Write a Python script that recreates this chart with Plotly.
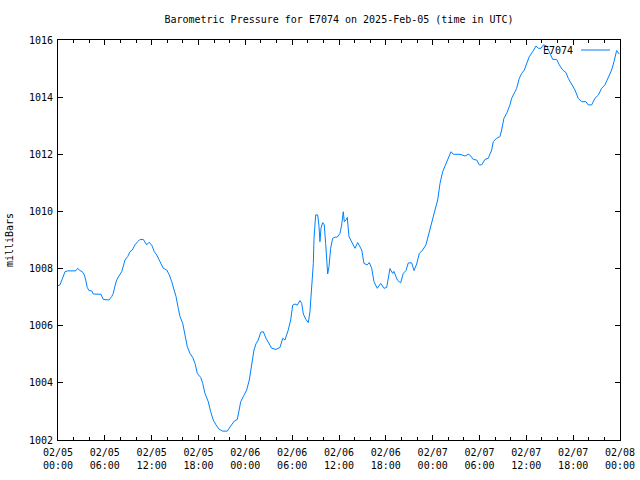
import pandas as pd
import plotly.graph_objects as go

title_text = "Barometric Pressure for E7074 on 2025-Feb-05 (time in UTC)"
series_name = "E7074"
y_title = "milliBars"
start_time = "2025-02-05 00:00"

# hours since 2025-02-05 00:00 UTC
hours = [0.00, 0.26, 0.55, 0.90, 1.24, 2.27, 2.52, 2.82, 3.11, 3.37, 3.55, 3.75, 3.97, 4.32, 4.52,
         5.51, 5.80, 6.53, 6.88, 7.08, 7.30, 7.52, 7.81, 8.16, 8.37, 8.58, 8.93, 9.22, 9.52, 9.86,
         10.21, 10.50, 10.93, 11.36, 11.66, 12.00, 12.34, 12.64, 13.07, 13.49, 13.93, 14.26, 14.57,
         14.86, 15.12, 15.41, 15.63, 15.98, 16.27, 16.56, 16.91, 17.26, 17.55, 17.85, 18.28, 18.54,
         18.83, 19.25, 19.56, 19.89, 20.24, 20.63, 21.10, 21.69, 22.12, 22.59, 22.97, 23.19, 23.41,
         23.74, 24.17, 24.51, 24.69, 24.89, 25.11, 25.37, 25.66, 25.97, 26.30, 26.65, 27.07, 27.38,
         27.93, 28.44, 28.79, 29.08, 29.50, 29.81, 30.07, 30.36, 30.66, 31.00, 31.22, 31.43, 31.77,
         32.07, 32.28, 32.50, 32.71, 32.80, 33.01, 33.27, 33.44, 33.56, 33.69, 33.91, 34.11, 34.29,
         34.42, 34.55, 34.72, 34.93, 35.19, 35.49, 35.78, 36.13, 36.34, 36.55, 36.68, 36.89, 37.06,
         37.28, 37.50, 37.75, 38.05, 38.39, 38.69, 38.91, 39.20, 39.46, 39.62, 39.88, 40.19, 40.48,
         40.90, 41.34, 41.76, 42.11, 42.44, 42.53, 42.88, 43.04, 43.47, 43.90, 44.23, 44.58, 44.88,
         45.31, 45.61, 45.95, 46.29, 46.72, 47.14, 47.44, 47.75, 48.00, 48.30, 48.64, 48.94, 49.28,
         49.71, 50.00, 50.35, 50.64, 51.50, 52.14, 52.56, 52.78, 53.20, 53.64, 53.97, 54.28, 54.70,
         55.12, 55.56, 55.76, 56.19, 56.62, 56.84, 57.13, 57.48, 57.90, 58.12, 58.55, 58.76, 59.10,
         59.40, 59.74, 60.04, 60.38, 60.81, 61.24, 61.53, 61.88, 62.18, 62.61, 63.03, 63.38, 63.89,
         64.22, 64.66, 65.08, 65.37, 65.81, 66.23, 66.65, 67.09, 67.64, 67.93, 68.37, 68.79, 69.22,
         69.65, 70.07, 70.50, 70.93, 71.23, 71.57, 71.90]

pressure = [1007.40, 1007.43, 1007.64, 1007.89, 1007.92, 1007.92, 1008.01, 1007.93, 1007.89, 1007.78,
            1007.60, 1007.34, 1007.23, 1007.22, 1007.11, 1007.10, 1006.92, 1006.90, 1007.02, 1007.13,
            1007.39, 1007.60, 1007.74, 1007.89, 1008.09, 1008.30, 1008.42, 1008.59, 1008.65, 1008.83,
            1008.94, 1009.02, 1009.02, 1008.83, 1008.92, 1008.83, 1008.59, 1008.48, 1008.24, 1008.01,
            1007.95, 1007.78, 1007.54, 1007.25, 1007.02, 1006.61, 1006.32, 1006.08, 1005.67, 1005.27,
            1005.03, 1004.89, 1004.68, 1004.33, 1004.19, 1003.98, 1003.63, 1003.34, 1002.99, 1002.70,
            1002.53, 1002.38, 1002.31, 1002.31, 1002.49, 1002.66, 1002.72, 1002.99, 1003.34, 1003.52,
            1003.75, 1004.10, 1004.45, 1004.80, 1005.15, 1005.37, 1005.50, 1005.77, 1005.79, 1005.56,
            1005.33, 1005.21, 1005.17, 1005.24, 1005.56, 1005.50, 1005.85, 1006.20, 1006.72, 1006.76,
            1006.72, 1006.88, 1006.78, 1006.41, 1006.22, 1006.11, 1006.49, 1007.42, 1008.18, 1009.06,
            1009.88, 1009.88, 1009.47, 1008.94, 1009.41, 1009.61, 1009.53, 1008.88, 1008.18, 1007.81,
            1008.07, 1008.71, 1009.06, 1009.10, 1009.10, 1009.23, 1009.53, 1009.99, 1009.64, 1009.70,
            1009.79, 1009.12, 1009.00, 1008.88, 1008.71, 1008.91, 1008.77, 1008.65, 1008.18, 1008.13,
            1008.13, 1008.21, 1008.01, 1007.54, 1007.31, 1007.48, 1007.31, 1007.34, 1007.89, 1008.00,
            1007.83, 1007.90, 1007.60, 1007.50, 1007.83, 1007.93, 1008.20, 1008.20, 1007.93, 1008.16,
            1008.53, 1008.65, 1008.83, 1009.17, 1009.41, 1009.76, 1010.05, 1010.40, 1010.98, 1011.39,
            1011.68, 1011.92, 1012.09, 1012.00, 1012.00, 1011.94, 1012.00, 1011.97, 1011.82, 1011.80,
            1011.63, 1011.63, 1011.82, 1011.86, 1012.15, 1012.44, 1012.56, 1012.62, 1012.85, 1013.26,
            1013.43, 1013.73, 1013.96, 1014.19, 1014.31, 1014.66, 1014.83, 1014.95, 1015.18, 1015.42,
            1015.59, 1015.79, 1015.71, 1015.71, 1015.83, 1015.79, 1015.53, 1015.32, 1015.32, 1015.13,
            1014.95, 1014.86, 1014.66, 1014.43, 1014.25, 1013.96, 1013.84, 1013.84, 1013.73, 1013.73,
            1013.96, 1014.07, 1014.31, 1014.43, 1014.72, 1014.95, 1015.24, 1015.63, 1015.51]

x_tick_values = ["2025-02-05 00:00", "2025-02-05 06:00", "2025-02-05 12:00", "2025-02-05 18:00",
                 "2025-02-06 00:00", "2025-02-06 06:00", "2025-02-06 12:00", "2025-02-06 18:00",
                 "2025-02-07 00:00", "2025-02-07 06:00", "2025-02-07 12:00", "2025-02-07 18:00",
                 "2025-02-08 00:00"]
x_tick_labels = ["02/05<br>00:00", "02/05<br>06:00", "02/05<br>12:00", "02/05<br>18:00",
                 "02/06<br>00:00", "02/06<br>06:00", "02/06<br>12:00", "02/06<br>18:00",
                 "02/07<br>00:00", "02/07<br>06:00", "02/07<br>12:00", "02/07<br>18:00",
                 "02/08<br>00:00"]
y_tick_values = [1002, 1004, 1006, 1008, 1010, 1012, 1014, 1016]

times = pd.Timestamp(start_time) + pd.to_timedelta(hours, unit="h")

line_color = "#0080ff"
font = "DejaVu Sans Mono, Liberation Mono, monospace"

fig = go.Figure()
fig.add_trace(go.Scatter(x=times, y=pressure, mode="lines", name=series_name,
                         line=dict(color=line_color, width=1), showlegend=False))

fig.update_layout(
    width=640, height=480,
    margin=dict(l=58, r=20, t=40, b=40, autoexpand=False),
    paper_bgcolor="white", plot_bgcolor="white",
    font=dict(family=font, size=10, color="black"),
    title=dict(text=title_text, x=(58 + 620) / 2 / 640, xanchor="center",
               y=1 - 19 / 480, yanchor="middle", font=dict(size=10)),
    xaxis=dict(
        range=[x_tick_values[0], x_tick_values[-1]], automargin=False,
        tickmode="array", tickvals=x_tick_values, ticktext=x_tick_labels,
        ticks="inside", ticklen=5, tickcolor="black", tickwidth=1,
        ticklabelstandoff=3,
        showline=True, linecolor="black", linewidth=1, mirror="allticks",
        showgrid=False, zeroline=False,
        minor=dict(dtick=2 * 3600 * 1000, ticks="inside", ticklen=3, tickcolor="black",
                   showgrid=False),
        tickfont=dict(size=10),
    ),
    yaxis=dict(
        range=[1002, 1016], automargin=False,
        tickmode="array", tickvals=y_tick_values,
        ticks="inside", ticklen=5, tickcolor="black", tickwidth=1,
        ticklabelstandoff=2,
        showline=True, linecolor="black", linewidth=1, mirror="allticks",
        showgrid=False, zeroline=False,
        title=dict(text=y_title, standoff=13, font=dict(size=10)),
        tickfont=dict(size=10),
    ),
)

# gnuplot-style key: label then line sample, top right inside the plot
fig.add_annotation(xref="paper", yref="paper", x=(575 - 58) / 562, y=(440 - 50) / 400,
                   text=series_name, showarrow=False, xanchor="right", yanchor="middle",
                   font=dict(size=10, family=font, color="black"))
fig.add_shape(type="line", xref="paper", yref="paper",
              x0=(581 - 58) / 562, x1=(610 - 58) / 562,
              y0=(440 - 50) / 400, y1=(440 - 50) / 400,
              line=dict(color=line_color, width=1))

fig.write_html("out.html")
